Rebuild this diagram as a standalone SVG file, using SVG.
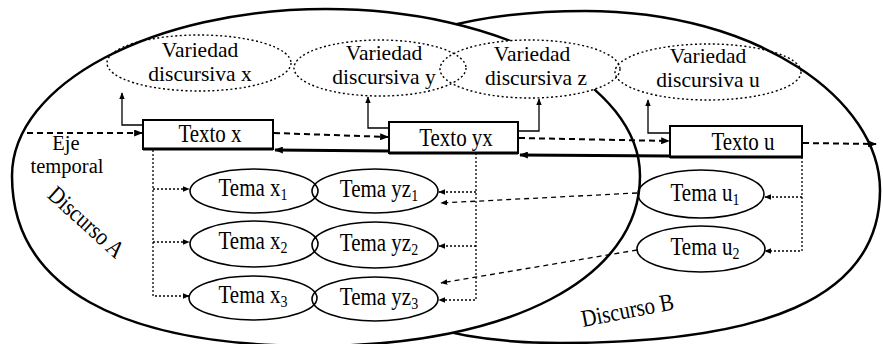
<svg xmlns="http://www.w3.org/2000/svg" width="883" height="344" viewBox="0 0 883 344">
<defs>
<marker id="ah" viewBox="0 0 10 8" refX="9" refY="4" markerWidth="9" markerHeight="7" markerUnits="userSpaceOnUse" orient="auto"><path d="M0,0 L10,4 L0,8 z" fill="#000"/></marker>
<marker id="as" viewBox="0 0 10 8" refX="9" refY="4" markerWidth="7" markerHeight="6" markerUnits="userSpaceOnUse" orient="auto"><path d="M0,0 L10,4 L0,8 z" fill="#000"/></marker>
<style>
text{font-family:"Liberation Serif","Times New Roman",serif;font-size:21px;fill:#000;text-anchor:middle}
.vt{font-size:21.5px}
.sub{font-size:14px}
.disc{stroke:#000;stroke-width:2.5}
.var{fill:none;stroke:#000;stroke-width:1.4;stroke-dasharray:2 2.5}
.box{fill:#fff;stroke:#000;stroke-width:2}
.boxb{stroke:#000;stroke-width:3}
.tema{fill:none;stroke:#000;stroke-width:1.6}
.dash{fill:none;stroke:#000;stroke-width:2;stroke-dasharray:6 4}
.tdash{fill:none;stroke:#000;stroke-width:1.3;stroke-dasharray:5 4}
.dot{fill:none;stroke:#000;stroke-width:1.3;stroke-dasharray:2 2}
.solid{fill:none;stroke:#000;stroke-width:3}
.up{fill:none;stroke:#000;stroke-width:1.3}
</style>
</defs>

<g id="discurso-B">
<path class="disc" fill="#fff" d="M585,11 C758,11 880,100 880,190 C880,300 760,343 560,343 C380,343 290,270 290,180 C300,60 430,11 585,11 Z"/>
<text transform="translate(629,318) rotate(-11) scale(1,1.15)">Discurso B</text>
</g>
<g id="discurso-A">
<path class="disc" fill="#fff" d="M12,176 C12,84 153,9 326,9 C499,9 640,84 640,176 C640,278 510,346 315,346 C118,346 12,286 12,176 Z"/>
<text transform="translate(81,228) rotate(42) scale(1,1.15)">Discurso A</text>
</g>
<ellipse cx="530" cy="69" rx="90" ry="29" fill="#fff"/>

<g id="eje-temporal">
<text x="66" y="150" style="font-size:20.5px">Eje</text>
<text x="67" y="173" style="font-size:20.5px">temporal</text>
</g>

<g id="variedad-x">
<ellipse class="var" cx="199" cy="63" rx="92" ry="28"/>
<text class="vt" x="200" y="57">Variedad</text>
<text class="vt" x="200" y="81">discursiva x</text>
</g>
<g id="variedad-y">
<ellipse class="var" cx="380" cy="68" rx="86" ry="28"/>
<text class="vt" x="384" y="60">Variedad</text>
<text class="vt" x="384" y="84">discursiva y</text>
</g>
<g id="variedad-z">
<ellipse class="var" cx="530" cy="69" rx="90" ry="29"/>
<text class="vt" x="532" y="61">Variedad</text>
<text class="vt" x="536" y="85">discursiva z</text>
</g>
<g id="variedad-u">
<ellipse class="var" cx="708" cy="72" rx="93" ry="28"/>
<text class="vt" x="708" y="63">Variedad</text>
<text class="vt" x="708" y="87">discursiva u</text>
</g>

<g id="connectors">
<path class="dash" d="M27,133 L142,133" marker-end="url(#ah)"/>
<path class="dash" d="M274,133 L388,137" marker-end="url(#ah)"/>
<path class="dash" d="M519,138 L669,141" marker-end="url(#ah)"/>
<path class="dash" d="M803,143 L876,144" marker-end="url(#ah)"/>
<path class="solid" d="M670,156 L520,155" marker-end="url(#ah)"/>
<path class="solid" d="M389,151 L275,150" marker-end="url(#ah)"/>
<path class="up" d="M143,125 H122 V93" marker-end="url(#as)"/>
<path class="up" d="M389,128 H368 V97" marker-end="url(#as)"/>
<path class="up" d="M518,131 H539 V99" marker-end="url(#as)"/>
<path class="up" d="M670,133 H648 V100" marker-end="url(#as)"/>
<path class="dot" d="M153,150 V296 H189" marker-end="url(#as)"/>
<path class="dot" d="M153,189 H189" marker-end="url(#as)"/>
<path class="dot" d="M153,242 H189" marker-end="url(#as)"/>
<path class="dot" d="M476,153 V300 H439" marker-end="url(#as)"/>
<path class="dot" d="M476,192 H439" marker-end="url(#as)"/>
<path class="dot" d="M476,246 H439" marker-end="url(#as)"/>
<path class="dot" d="M802,157 V251 H765" marker-end="url(#as)"/>
<path class="dot" d="M802,197 H765" marker-end="url(#as)"/>
<path class="tdash" d="M637,193 L441,203" marker-end="url(#as)"/>
<path class="tdash" d="M637,250 L441,283" marker-end="url(#as)"/>
</g>

<g id="texto-x">
<rect class="box" x="143" y="120" width="130" height="29"/>
<line class="boxb" x1="143" y1="149" x2="273" y2="149"/>
<text transform="translate(210,142) scale(1,1.15)">Texto x</text>
</g>
<g id="texto-yx">
<rect class="box" x="389" y="122" width="129" height="31"/>
<line class="boxb" x1="389" y1="153" x2="518" y2="153"/>
<text transform="translate(456,146) scale(1,1.15)">Texto yx</text>
</g>
<g id="texto-u">
<rect class="box" x="670" y="126" width="132" height="31"/>
<line class="boxb" x1="670" y1="157" x2="802" y2="157"/>
<text transform="translate(743,150) scale(1,1.15)">Texto u</text>
</g>

<g id="tema-x1">
<ellipse class="tema" cx="254" cy="191" rx="64" ry="22"/>
<text transform="translate(253,196) scale(1,1.15)">Tema x<tspan class="sub" dy="3.5">1</tspan></text>
</g>
<g id="tema-yz1">
<ellipse class="tema" cx="375" cy="191" rx="63" ry="22"/>
<text transform="translate(379,197) scale(1,1.15)">Tema yz<tspan class="sub" dy="3.5">1</tspan></text>
</g>
<g id="tema-x2">
<ellipse class="tema" cx="254" cy="244" rx="64" ry="23"/>
<text transform="translate(253,249) scale(1,1.15)">Tema x<tspan class="sub" dy="3.5">2</tspan></text>
</g>
<g id="tema-yz2">
<ellipse class="tema" cx="375" cy="245" rx="63" ry="23"/>
<text transform="translate(379,251) scale(1,1.15)">Tema yz<tspan class="sub" dy="3.5">2</tspan></text>
</g>
<g id="tema-x3">
<ellipse class="tema" cx="253" cy="298" rx="64" ry="22"/>
<text transform="translate(253,303) scale(1,1.15)">Tema x<tspan class="sub" dy="3.5">3</tspan></text>
</g>
<g id="tema-yz3">
<ellipse class="tema" cx="375" cy="299" rx="63" ry="22"/>
<text transform="translate(379,305) scale(1,1.15)">Tema yz<tspan class="sub" dy="3.5">3</tspan></text>
</g>
<g id="tema-u1">
<ellipse class="tema" cx="701" cy="194" rx="63" ry="24"/>
<text transform="translate(705,201) scale(1,1.15)">Tema u<tspan class="sub" dy="3.5">1</tspan></text>
</g>
<g id="tema-u2">
<ellipse class="tema" cx="701" cy="249" rx="64" ry="23"/>
<text transform="translate(705,255) scale(1,1.15)">Tema u<tspan class="sub" dy="3.5">2</tspan></text>
</g>
</svg>
